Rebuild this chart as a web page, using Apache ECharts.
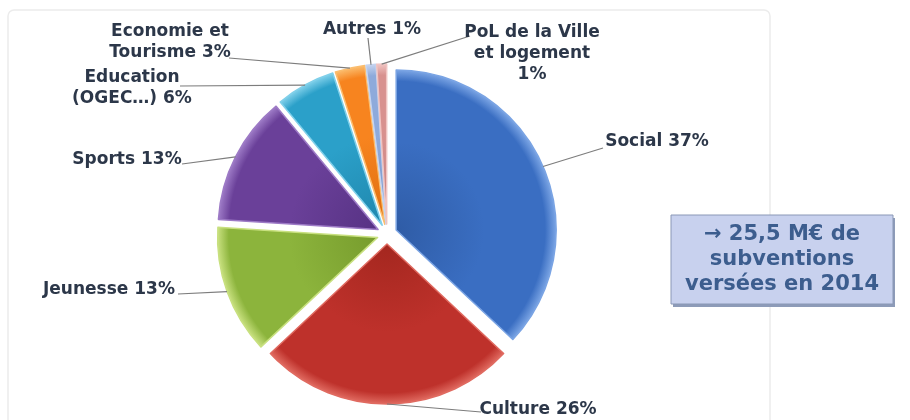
<!DOCTYPE html>
<html>
<head>
<meta charset="utf-8">
<title>Subventions 2014</title>
<script src="https://cdn.jsdelivr.net/npm/echarts@6/dist/echarts.min.js"></script>
<style>
  html, body { margin: 0; padding: 0; background: #fff; }
  #main { width: 910px; height: 420px; }
</style>
</head>
<body>
<div id="main"></div>
<script>
// data
var categories = ['Social', 'Culture', 'Jeunesse', 'Sports', 'Education\n(OGEC…)',
                  'Economie et\nTourisme', 'Autres', 'PoL de la Ville\net logement'];
var shares = [37, 26, 13, 13, 6, 3, 1, 1];
var labelSep = [' ', ' ', ' ', ' ', ' ', ' ', ' ', '\n'];
var colors = ['#3a6ec2', '#be312b', '#8cb43c', '#6a4099', '#2ba0c9', '#f7841f', '#8eaadb', '#d8918f'];
var shades = ['#2f5ca6', '#a4271f', '#779c2d', '#573284', '#1f87ad', '#de6e10', '#7a95c6', '#c27c7a'];
var rims = ['#7aa4e4', '#e06a60', '#c8e07f', '#9d7ac6', '#80d0ea', '#fbbd6e', '#c4d3ef', '#f0c4c2'];
var boxLines = ['→ 25,5 M€ de', 'subventions', 'versées en 2014'];

// where each label sits (text centre) and where its leader line meets the text
var labelSpots = [
  { x: 657, y: 142, end: [603, 148] },
  { x: 538, y: 410, end: [481, 412] },
  { x: 109, y: 290, end: [178, 294] },
  { x: 127, y: 160, end: [182, 164] },
  { x: 132, y: 88,  end: [180, 86] },
  { x: 170, y: 42,  end: [229, 58] },
  { x: 372, y: 30,  end: [368, 38] },
  { x: 532, y: 54,  end: [470, 36] }
];

var pieCenter = [387, 234];
var pieRadius = 160;
var explode = 10;

var chart = echarts.init(document.getElementById('main'));

function sliceFill(i) {
  return {
    type: 'radial',
    global: true,
    x: pieCenter[0], y: pieCenter[1], r: pieRadius,
    colorStops: [
      { offset: 0, color: shades[i] },
      { offset: 0.55, color: colors[i] },
      { offset: 0.93, color: colors[i] },
      { offset: 1, color: rims[i] }
    ]
  };
}

// exploded slices
var sliceData = categories.map(function (name, i) {
  return {
    name: name,
    value: shares[i],
    selected: true,
    itemStyle: { color: sliceFill(i), borderColor: rims[i] }
  };
});

// same values again, invisible, only to carry the labels
var labelData = categories.map(function (name, i) {
  return { name: name, value: shares[i] };
});

var option = {
  animation: false,
  backgroundColor: '#ffffff',
  graphic: [
    {
      type: 'rect',
      shape: { x: 8, y: 10, width: 762, height: 430, r: 6 },
      style: { fill: 'none', stroke: '#ececec', lineWidth: 1.5 },
      z: -10
    },
    {
      type: 'rect',
      shape: { x: 673, y: 218, width: 222, height: 89 },
      style: { fill: '#8d9bb8' },
      z: 1
    },
    {
      type: 'rect',
      shape: { x: 671, y: 215, width: 222, height: 89 },
      style: { fill: '#c8d1ee', stroke: '#8a98b6', lineWidth: 1 },
      z: 2
    },
    {
      type: 'text',
      x: 782, y: 260, z: 3,
      style: {
        text: boxLines.join('\n'),
        align: 'center', verticalAlign: 'middle',
        font: 'bold 21px "DejaVu Sans"',
        lineHeight: 25,
        fill: '#3c5d8e'
      }
    }
  ],
  series: [
    {
      type: 'pie',
      center: pieCenter,
      radius: pieRadius,
      startAngle: 90,
      clockwise: true,
      selectedMode: 'multiple',
      selectedOffset: explode,
      silent: true,
      itemStyle: { borderWidth: 1.5 },
      emphasis: { disabled: true },
      label: { show: false },
      labelLine: { show: false },
      data: sliceData
    },
    {
      type: 'pie',
      center: pieCenter,
      radius: pieRadius + explode,
      startAngle: 90,
      clockwise: true,
      silent: true,
      z: 3,
      avoidLabelOverlap: false,
      itemStyle: { color: 'rgba(0,0,0,0)' },
      emphasis: { disabled: true },
      label: {
        show: true,
        position: 'outside',
        fontFamily: 'DejaVu Sans',
        fontWeight: 'bold',
        fontSize: 17,
        lineHeight: 21,
        color: '#2c3749',
        align: 'center',
        formatter: function (p) {
          return p.name + labelSep[p.dataIndex] + p.value + '%';
        }
      },
      labelLine: {
        show: true,
        length: 10,
        length2: 10,
        lineStyle: { color: '#7d7d7d', width: 1.2 }
      },
      labelLayout: function (p) {
        var s = labelSpots[p.dataIndex];
        var pts = p.labelLinePoints;
        return {
          x: s.x,
          y: s.y,
          align: 'center',
          verticalAlign: 'middle',
          labelLinePoints: [pts[0], s.end]
        };
      },
      data: labelData
    }
  ]
};

chart.setOption(option);
</script>
</body>
</html>
